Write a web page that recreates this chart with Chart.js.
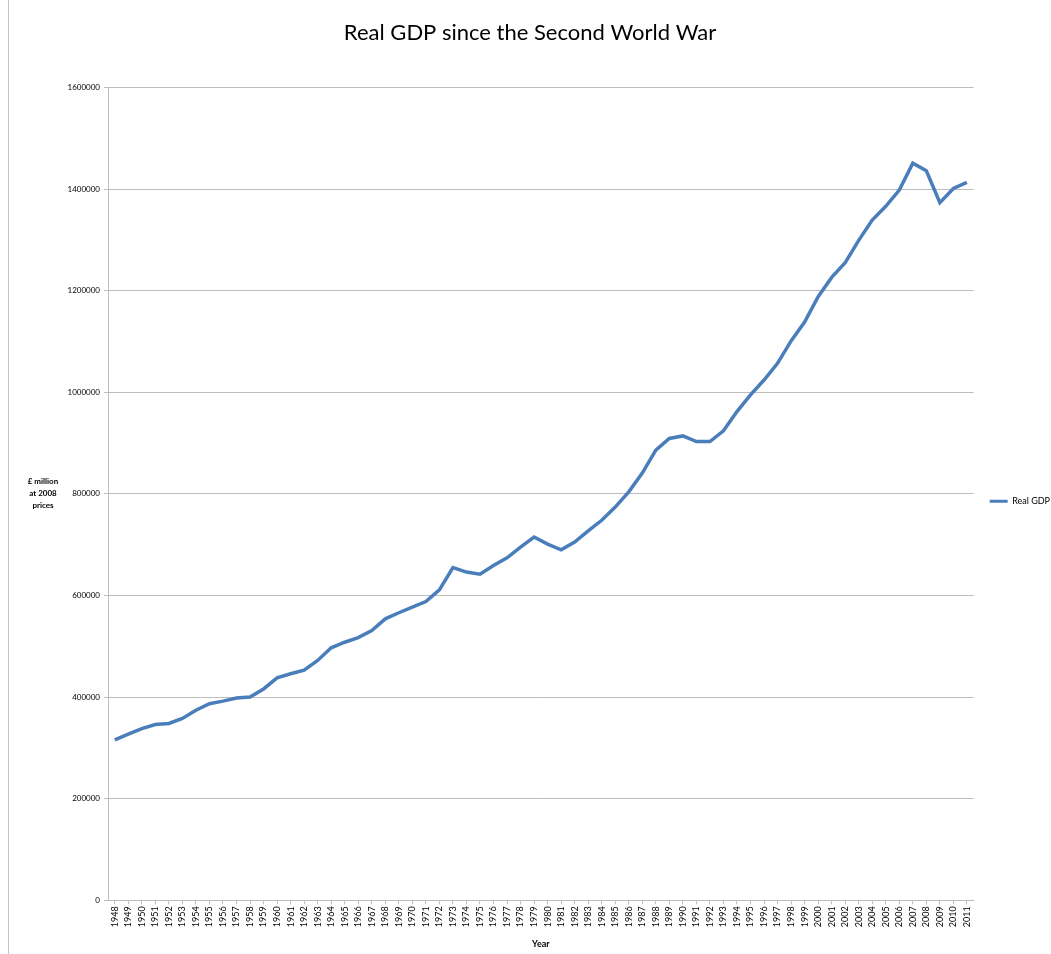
<!DOCTYPE html>
<html>
<head>
<meta charset="utf-8">
<script src="https://cdn.jsdelivr.net/npm/chart.js@4"></script>
<style>
  body { margin: 0; background: #fff; }
  #wrap { position: relative; width: 1051px; height: 954px; overflow: hidden; }
  #frame { position: absolute; left: 8px; top: 0; width: 0; height: 954px; border-left: 1px solid #c4c4c4; }
</style>
</head>
<body>
<div id="wrap">
  <div id="frame"></div>
  <canvas id="gdp-chart" width="1051" height="954"></canvas>
</div>
<script>
// years on the x axis
const years = [];
for (let y = 1948; y <= 2011; y++) years.push(String(y));

// Real GDP, £ million at 2008 prices
const realGdp = [
    316000, 327000, 338000, 346000, 348000, 358000, 374000, 387000, 392000, 398000,
    400000, 416000, 438000, 446000, 453000, 472000, 497000, 508000, 517000, 531000,
    554000, 566000, 577000, 588000, 611000, 655000, 646000, 642000, 659000, 674000,
    695000, 715000, 701000, 690000, 705000, 727000, 748000, 774000, 804000, 841000,
    886000, 909000, 914000, 903000, 903000, 924000, 962000, 995000, 1024000, 1057000,
    1101000, 1138000, 1188000, 1226000, 1255000, 1299000, 1339000, 1366000, 1398000, 1451000,
    1436000, 1373000, 1401000, 1413000
];

const yTicks = [0, 200000, 400000, 600000, 800000, 1000000, 1200000, 1400000, 1600000];
const yTitleLines = ["£ million", "at 2008", "prices"];

const lineBlue = "#4a7ebb";
const gridGrey = "#bdbdbd";

// y axis title drawn horizontally like the original
const yTitlePlugin = {
    id: "yTitle",
    afterDraw(chart) {
        const ctx = chart.ctx;
        const area = chart.chartArea;
        const mid = (area.top + area.bottom) / 2;
        ctx.save();
        ctx.font = "bold 8px Lato";
        ctx.fillStyle = "#000";
        ctx.textAlign = "center";
        ctx.textBaseline = "middle";
        yTitleLines.forEach((t, i) => {
            ctx.fillText(t, 43, mid - 12 + i * 12);
        });
        ctx.restore();
    }
};

new Chart(document.getElementById("gdp-chart"), {
    type: "line",
    data: {
        labels: years,
        datasets: [{
            label: "Real GDP",
            data: realGdp,
            borderColor: lineBlue,
            backgroundColor: lineBlue,
            borderWidth: 3.5,
            pointRadius: 0,
            tension: 0
        }]
    },
    options: {
        responsive: false,
        animation: false,
        layout: { padding: { left: 0, right: -9, top: 0, bottom: 5 } },
        plugins: {
            title: {
                display: true,
                text: "Real GDP since the Second World War",
                color: "#000",
                font: { family: "Lato", size: 22, weight: "normal" },
                padding: { top: 20, bottom: 41 }
            },
            legend: {
                position: "right",
                // empty title only pushes the single entry down a bit
                title: { display: true, text: "", padding: { top: 0, bottom: 39 } },
                labels: {
                    color: "#000",
                    font: { family: "Lato", size: 9 },
                    boxWidth: 18,
                    boxHeight: 3,
                    padding: 16,
                    generateLabels(chart) {
                        return Chart.defaults.plugins.legend.labels.generateLabels(chart).map(l => {
                            l.lineWidth = 0;
                            return l;
                        });
                    }
                }
            },
            tooltip: { enabled: false }
        },
        scales: {
            x: {
                offset: true,
                grid: { display: true, drawOnChartArea: false, drawTicks: true, tickLength: 4, color: gridGrey },
                border: { color: gridGrey },
                ticks: {
                    color: "#000",
                    font: { family: "Lato", size: 9 },
                    autoSkip: false,
                    maxRotation: 90,
                    minRotation: 90,
                    padding: 2
                },
                title: {
                    display: true,
                    text: "Year",
                    color: "#000",
                    font: { family: "Lato", size: 9, weight: "bold" },
                    padding: { top: 9, bottom: 0 }
                }
            },
            y: {
                min: 0,
                max: 1600000,
                afterFit(scale) { scale.width = 108; },
                afterBuildTicks(scale) { scale.ticks = yTicks.map(v => ({ value: v })); },
                grid: { color: gridGrey, tickLength: 4 },
                border: { color: gridGrey },
                ticks: {
                    color: "#000",
                    font: { family: "Lato", size: 8 },
                    padding: 4,
                    callback: (v) => String(v)
                }
            }
        }
    },
    plugins: [yTitlePlugin]
});
</script>
</body>
</html>
